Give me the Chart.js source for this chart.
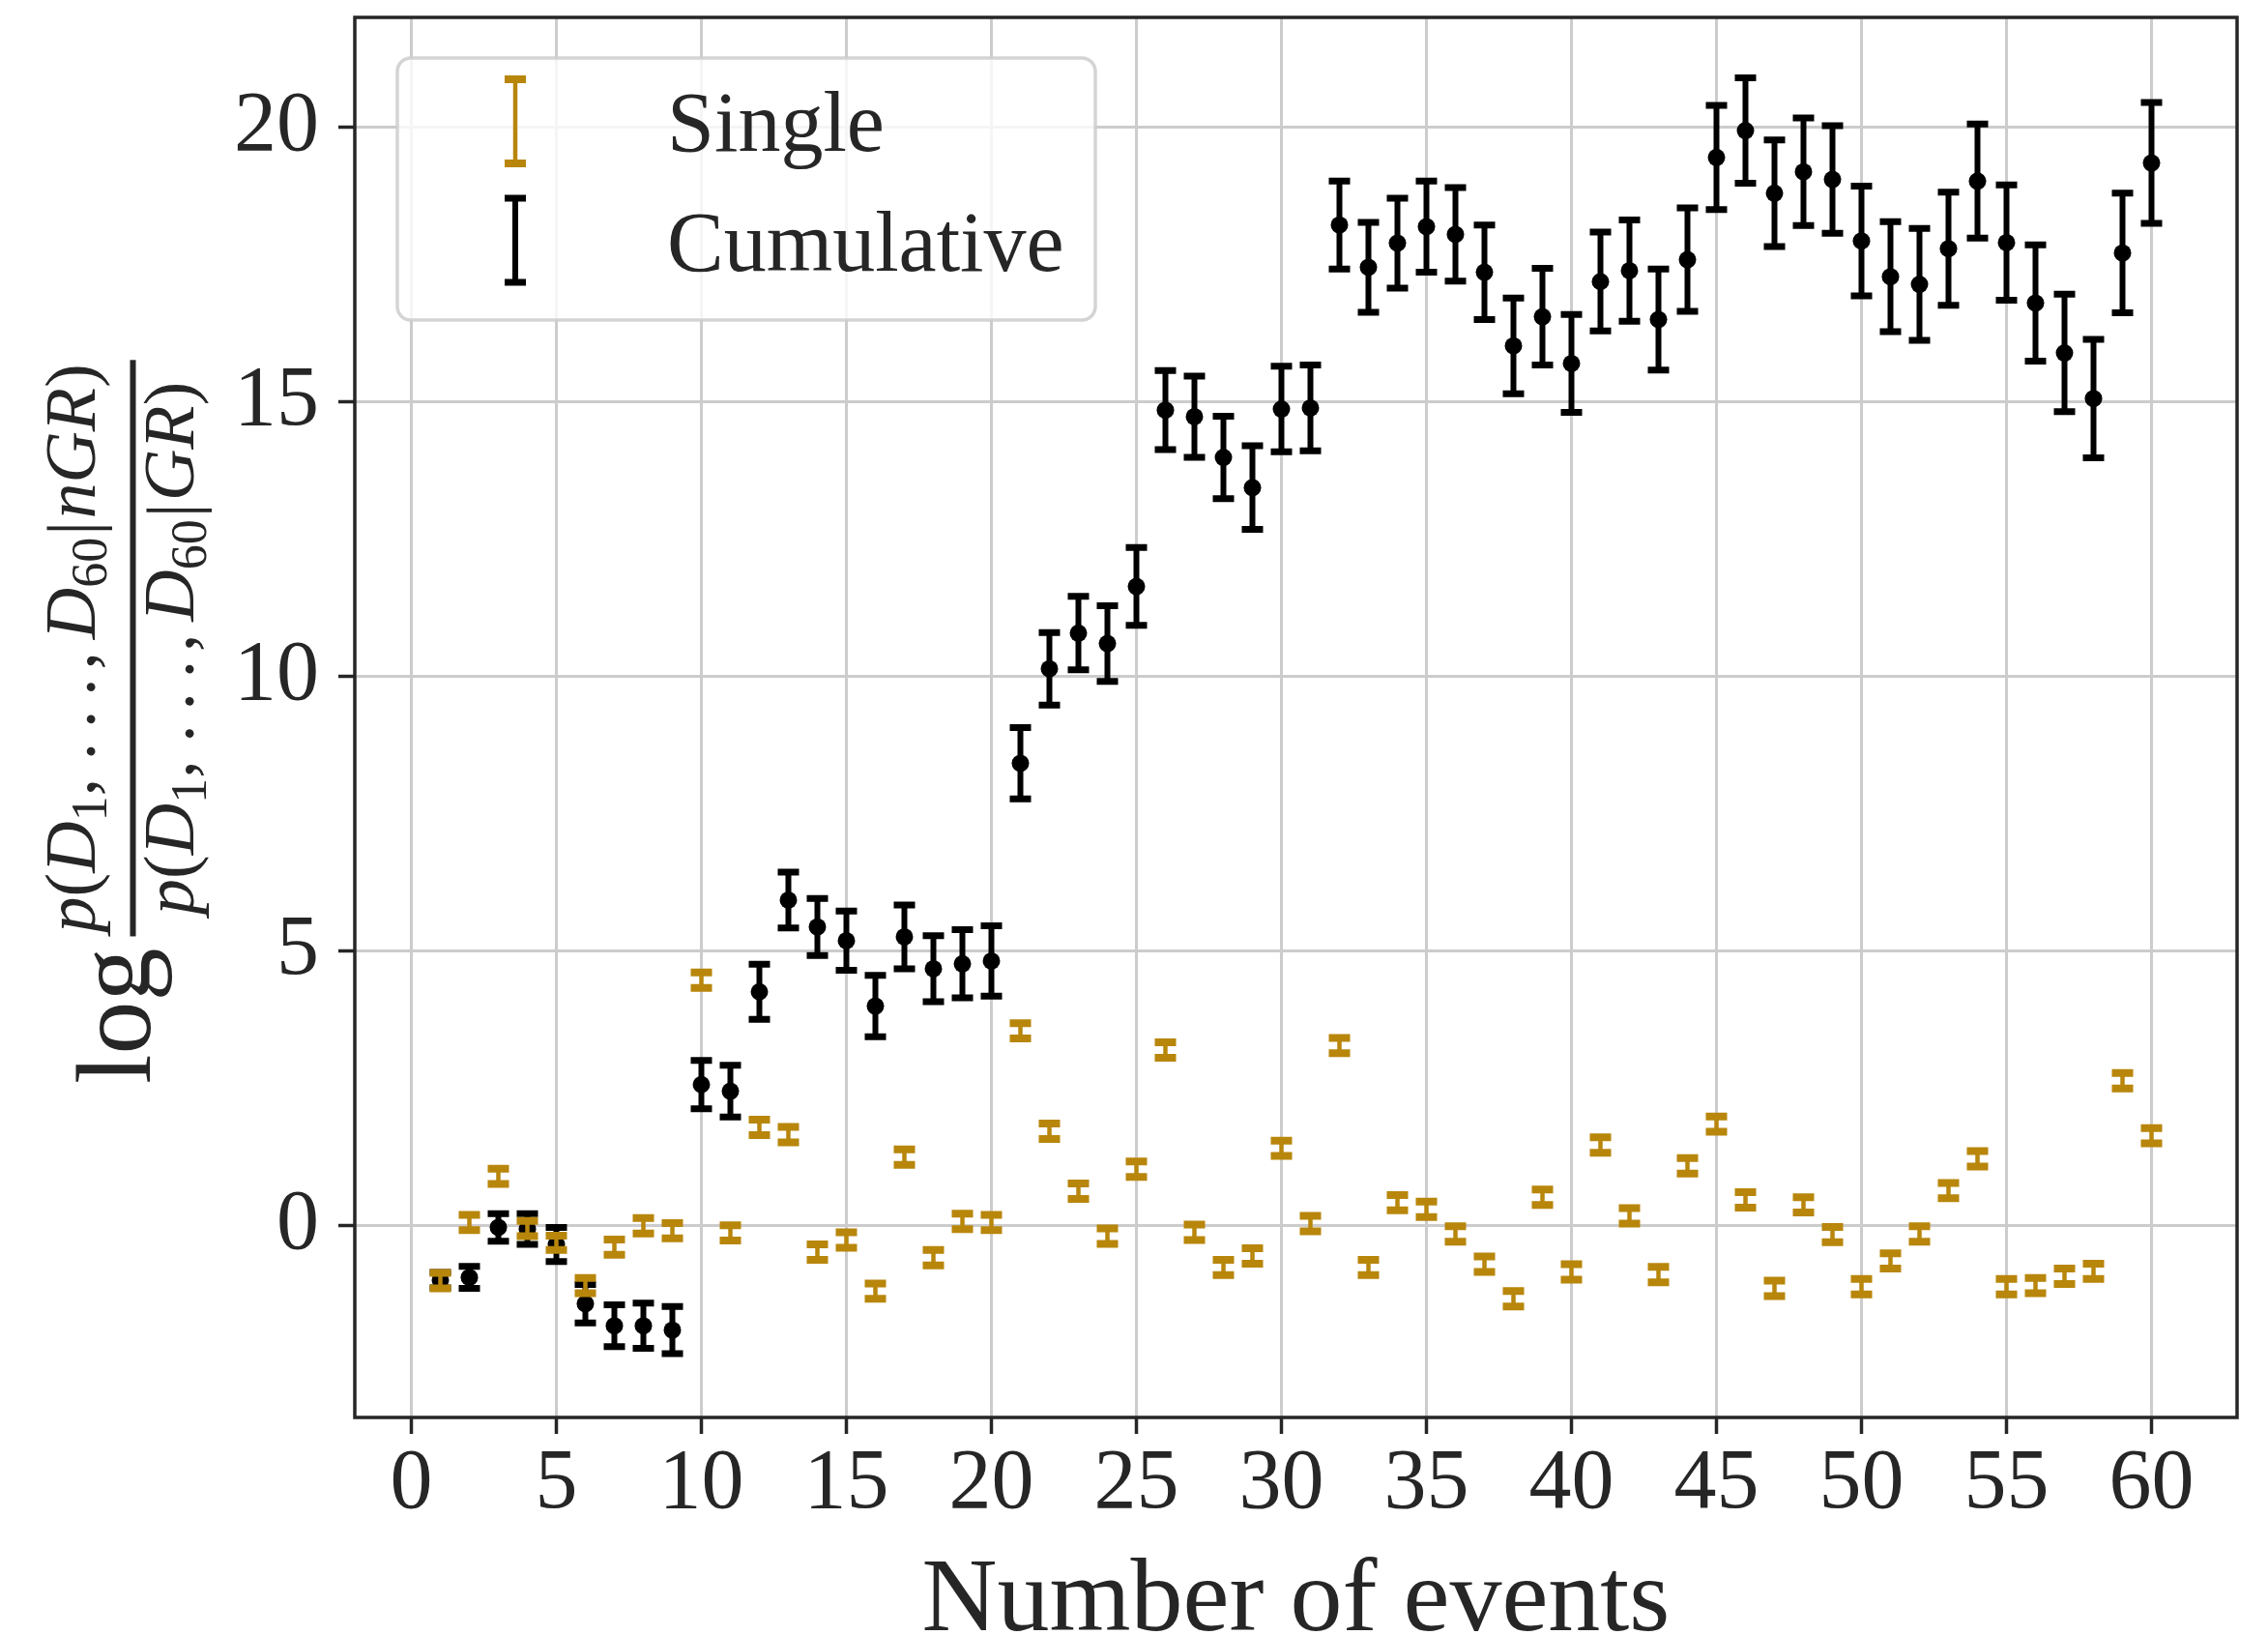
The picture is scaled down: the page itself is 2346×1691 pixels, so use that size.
<!DOCTYPE html>
<html>
<head>
<meta charset="utf-8">
<title>Evidence vs number of events</title>
<script src="https://cdn.jsdelivr.net/npm/chart.js@4.4.1/dist/chart.umd.min.js"></script>
<style>
  html, body { margin: 0; padding: 0; background: #fff; }
  #wrap { width: 2346px; height: 1691px; }
</style>
</head>
<body>
<div id="wrap"><canvas id="oddsChart" width="2346" height="1691"></canvas></div>
<script>
/* ═══════════════════════════════════════════
   log Bayes factor (nGR vs GR) per event
═══════════════════════════════════════════ */

const EVENTS = [
  1, 2, 3, 4, 5, 6, 7, 8, 9, 10, 11, 12, 13, 14, 15, 16, 17, 18, 19, 20,
  21, 22, 23, 24, 25, 26, 27, 28, 29, 30, 31, 32, 33, 34, 35, 36, 37, 38, 39, 40,
  41, 42, 43, 44, 45, 46, 47, 48, 49, 50, 51, 52, 53, 54, 55, 56, 57, 58, 59, 60
];

const SINGLE = [
  -1.00, 0.06, 0.90, -0.05, -0.31, -1.09, -0.39, 0.00, -0.09, 4.47,
  -0.13, 1.79, 1.66, -0.48, -0.26, -1.19, 1.25, -0.58, 0.08, 0.06,
  3.55, 1.72, 0.63, -0.19, 1.03, 3.20, -0.12, -0.76, -0.55, 1.41,
  0.04, 3.28, -0.76, 0.42, 0.30, -0.15, -0.70, -1.33, 0.52, -0.84,
  1.47, 0.18, -0.89, 1.09, 1.85, 0.47, -1.14, 0.38, -0.16, -1.11,
  -0.64, -0.15, 0.64, 1.22, -1.11, -1.09, -0.92, -0.83, 2.64, 1.64
];

const SINGLE_ERR = [
  0.14, 0.14, 0.14, 0.14, 0.13, 0.14, 0.14, 0.14, 0.14, 0.14,
  0.14, 0.14, 0.14, 0.14, 0.14, 0.14, 0.14, 0.14, 0.14, 0.14,
  0.14, 0.14, 0.14, 0.14, 0.14, 0.14, 0.14, 0.14, 0.14, 0.14,
  0.14, 0.14, 0.14, 0.14, 0.14, 0.14, 0.14, 0.14, 0.14, 0.14,
  0.14, 0.14, 0.14, 0.14, 0.14, 0.14, 0.14, 0.14, 0.14, 0.14,
  0.14, 0.14, 0.14, 0.14, 0.14, 0.14, 0.14, 0.14, 0.14, 0.14
];

const CUMULATIVE = [
  -0.99, -0.94, -0.03, -0.06, -0.34, -1.42, -1.82, -1.82, -1.90, 2.57,
  2.45, 4.26, 5.93, 5.44, 5.19, 4.00, 5.26, 4.68, 4.77, 4.82,
  8.42, 10.14, 10.79, 10.60, 11.64, 14.85, 14.73, 13.99, 13.44, 14.87,
  14.89, 18.22, 17.45, 17.89, 18.19, 18.05, 17.36, 16.02, 16.55, 15.70,
  17.19, 17.39, 16.50, 17.59, 19.45, 19.94, 18.80, 19.19, 19.05, 17.93,
  17.28, 17.14, 17.79, 19.02, 17.90, 16.80, 15.89, 15.06, 17.71, 19.35
];

const CUMULATIVE_ERR = [
  0.14, 0.20, 0.25, 0.28, 0.31, 0.35, 0.38, 0.41, 0.43, 0.44,
  0.47, 0.50, 0.51, 0.52, 0.54, 0.56, 0.58, 0.60, 0.62, 0.64,
  0.65, 0.66, 0.67, 0.69, 0.71, 0.72, 0.74, 0.75, 0.76, 0.78,
  0.78, 0.80, 0.82, 0.82, 0.83, 0.85, 0.86, 0.87, 0.88, 0.89,
  0.90, 0.92, 0.92, 0.94, 0.95, 0.96, 0.97, 0.98, 0.98, 1.00,
  1.00, 1.02, 1.03, 1.04, 1.05, 1.06, 1.07, 1.08, 1.09, 1.10
];

const X_TICKS = [0, 5, 10, 15, 20, 25, 30, 35, 40, 45, 50, 55, 60];
const Y_TICKS = [0, 5, 10, 15, 20];

const SERIES_NAMES = ['Single', 'Cumulative'];

/* ─── look ─── */
const SERIF = '"Liberation Serif", "Times New Roman", serif';
const INK   = '#262626';
const GOLD  = '#b8860b';
const BLACK = '#000000';
const GRID  = '#cccccc';

const BAR_STYLE = {
  Single:     { color: GOLD,  stem: 4.5, capThick: 8, capHalf: 11 },
  Cumulative: { color: BLACK, stem: 6,   capThick: 7, capHalf: 11 },
};

function points(ys) {
  return EVENTS.map((x, i) => ({ x, y: ys[i] }));
}

/* ─── error bars: stems + caps through the chart's own scales ─── */
function drawBar(ctx, st, px, top, bot) {
  ctx.strokeStyle = st.color;
  ctx.lineWidth = st.stem;
  ctx.beginPath(); ctx.moveTo(px, top); ctx.lineTo(px, bot); ctx.stroke();
  ctx.lineWidth = st.capThick;
  ctx.beginPath();
  ctx.moveTo(px - st.capHalf, top); ctx.lineTo(px + st.capHalf, top);
  ctx.moveTo(px - st.capHalf, bot); ctx.lineTo(px + st.capHalf, bot);
  ctx.stroke();
}

const errorBars = {
  id: 'errorBars',
  afterDatasetsDraw(chart) {
    const { ctx } = chart;
    const xs = chart.scales.x, ys = chart.scales.y;
    ctx.save();
    ctx.lineCap = 'butt';
    // cumulative first, single drawn over it (as in the original figure)
    [1, 0].forEach(di => {
      const ds = chart.data.datasets[di];
      const st = BAR_STYLE[ds.label];
      ds.data.forEach((p, i) => {
        const e = ds.errors[i];
        drawBar(ctx, st, xs.getPixelForValue(p.x),
                ys.getPixelForValue(p.y + e), ys.getPixelForValue(p.y - e));
      });
    });
    ctx.restore();

    // axes box (all four spines)
    const a = chart.chartArea;
    ctx.save();
    ctx.strokeStyle = INK;
    ctx.lineWidth = 3.5;
    ctx.strokeRect(a.left, a.top, a.right - a.left, a.bottom - a.top);
    ctx.restore();
  }
};

/* ─── legend box, upper left inside the axes ─── */
const legendBox = {
  id: 'legendBox',
  afterDraw(chart) {
    const { ctx } = chart;
    const a = chart.chartArea;
    const x0 = a.left + 44, y0 = a.top + 42, w = 722, h = 271;
    ctx.save();
    ctx.beginPath();
    ctx.roundRect(x0, y0, w, h, 14);
    ctx.fillStyle = 'rgba(255,255,255,0.8)';
    ctx.fill();
    ctx.lineWidth = 3.5;
    ctx.strokeStyle = 'rgba(204,204,204,0.85)';
    ctx.stroke();

    const rows = [
      { name: SERIES_NAMES[0], top: y0 + 22,  bot: y0 + 109, base: y0 + 96 },
      { name: SERIES_NAMES[1], top: y0 + 145, bot: y0 + 232, base: y0 + 220 },
    ];
    const hx = x0 + 122;
    ctx.lineCap = 'butt';
    rows.forEach(r => {
      drawBar(ctx, BAR_STYLE[r.name], hx, r.top, r.bot);
      ctx.fillStyle = INK;
      ctx.font = '88px ' + SERIF;
      ctx.textAlign = 'left';
      ctx.textBaseline = 'alphabetic';
      ctx.fillText(r.name, x0 + 279, r.base);
    });
    ctx.restore();
  }
};

/* ─── y label: log p(D1,…,D60|nGR) / p(D1,…,D60|GR), rotated ─── */
const NUMERATOR   = [['p','it'],['(','rm'],['D','it'],['1','sub'],[',','rm'],['','dots'],[',','rm'],['D','it'],['60','sub'],['|','rm'],['nGR','it'],[')','rm']];
const DENOMINATOR = [['p','it'],['(','rm'],['D','it'],['1','sub'],[',','rm'],['','dots'],[',','rm'],['D','it'],['60','sub'],['|','rm'],['GR','it'],[')','rm']];

function segFont(kind, size) {
  if (kind === 'it')  return 'italic ' + size + 'px ' + SERIF;
  if (kind === 'sub') return Math.round(size * 0.7) + 'px ' + SERIF;
  return size + 'px ' + SERIF;
}

function segAdvance(ctx, t, kind, size) {
  if (kind === 'dots') return size * 1.35;
  ctx.font = segFont(kind, size);
  let w = ctx.measureText(t).width;
  if (t === ',') w += size * 0.17;
  if (t === '|') w += size * 0.06;
  return w;
}

function runWidth(ctx, segs, size) {
  return segs.reduce((s, [t, k]) => s + segAdvance(ctx, t, k, size), 0);
}

function drawRun(ctx, segs, u, v, size) {
  segs.forEach(([t, kind]) => {
    ctx.font = segFont(kind, size);
    if (kind === 'dots') {
      const pitch = size * 0.45;
      for (let k = 0; k < 3; k++) ctx.fillText('.', u + size * 0.08 + k * pitch, v);
    } else if (kind === 'sub') {
      ctx.fillText(t, u, v + size * 0.17);
    } else if (t === '|') {
      ctx.fillText(t, u + size * 0.03, v + size * 0.04);
    } else {
      ctx.fillText(t, u, v);
    }
    u += segAdvance(ctx, t, kind, size);
  });
}

const yLabel = {
  id: 'yLabel',
  afterDraw(chart) {
    const { ctx } = chart;
    const size = 74;
    ctx.save();
    ctx.translate(155, 1121);
    ctx.rotate(-Math.PI / 2);
    ctx.fillStyle = INK;
    ctx.textAlign = 'left';
    ctx.textBaseline = 'alphabetic';

    ctx.font = '110px ' + SERIF;
    ctx.fillText('log', 0, 0);
    const logW = ctx.measureText('log').width;

    const numW = runWidth(ctx, NUMERATOR, size);
    const denW = runWidth(ctx, DENOMINATOR, size);
    const barStart = logW + 12;
    const barLen = Math.max(numW, denW) + 8;

    ctx.fillRect(barStart, -17.5 - 3, barLen, 6);
    drawRun(ctx, NUMERATOR,   barStart + (barLen - numW) / 2, -57.5, size);
    drawRun(ctx, DENOMINATOR, barStart + (barLen - denW) / 2,  45,   size);
    ctx.restore();
  }
};

/* ─── chart ─── */
const tickFont = { family: SERIF, size: 88 };

new Chart(document.getElementById('oddsChart'), {
  type: 'scatter',
  data: {
    datasets: [
      {
        label: SERIES_NAMES[0],
        data: points(SINGLE),
        errors: SINGLE_ERR,
        pointRadius: 0,
        showLine: false,
      },
      {
        label: SERIES_NAMES[1],
        data: points(CUMULATIVE),
        errors: CUMULATIVE_ERR,
        pointRadius: 9,
        pointBackgroundColor: BLACK,
        pointBorderWidth: 0,
        showLine: false,
      },
    ]
  },
  options: {
    responsive: false,
    animation: false,
    devicePixelRatio: 1,
    layout: { padding: { top: 18, right: 32, left: 0, bottom: 0 } },
    plugins: { legend: { display: false }, tooltip: { enabled: false } },
    scales: {
      x: {
        type: 'linear',
        min: -1.95,
        max: 62.95,
        afterBuildTicks: axis => { axis.ticks = X_TICKS.map(v => ({ value: v })); },
        afterFit: axis => {
          axis.height = 225;
          axis.paddingLeft = 0;
          axis.paddingRight = 0;
        },
        ticks: { font: tickFont, color: INK, padding: 0, maxRotation: 0, autoSkip: false },
        grid: { color: GRID, lineWidth: 3, tickColor: INK, tickLength: 17, tickWidth: 3.5 },
        border: { display: false },
        title: {
          display: true,
          text: 'Number of events',
          color: INK,
          font: { family: SERIF, size: 108, lineHeight: 0.6 },
          padding: { top: 0, bottom: 1 },
        },
      },
      y: {
        type: 'linear',
        min: -3.49,
        max: 22,
        afterBuildTicks: axis => { axis.ticks = Y_TICKS.map(v => ({ value: v })); },
        afterFit: axis => {
          axis.width = 367;
          axis.paddingTop = 0;
          axis.paddingBottom = 0;
        },
        ticks: { font: tickFont, color: INK, padding: 20 },
        grid: { color: GRID, lineWidth: 3, tickColor: INK, tickLength: 17, tickWidth: 3.5 },
        border: { display: false },
      },
    },
  },
  plugins: [errorBars, legendBox, yLabel],
});
</script>
</body>
</html>
